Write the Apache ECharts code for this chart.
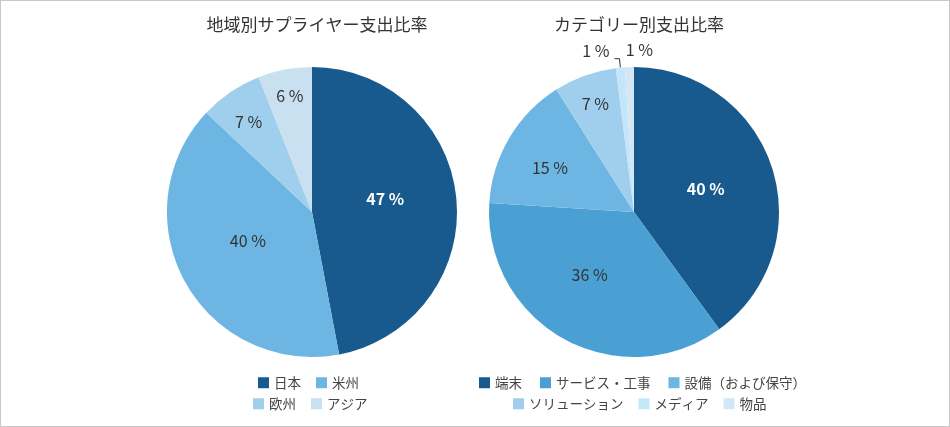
<!DOCTYPE html>
<html>
<head>
<meta charset="utf-8">
<script src="https://cdn.jsdelivr.net/npm/echarts@6/dist/echarts.min.js"></script>
<style>
  html, body { margin: 0; padding: 0; background: #fff; }
  #chart { width: 950px; height: 427px; box-sizing: border-box; border: 1px solid #c8c8c8; }
</style>
</head>
<body>
<div id="chart"></div>
<script>
  // 地域別
  const regionNames = ['日本', '米州', '欧州', 'アジア']
  const regionValues = [47, 40, 7, 6]
  const regionColors = ['#185a8e', '#6db6e3', '#9fcfec', '#c8e0ef']
  const regionLabelShift = [[-2, -6], [2, -7], [-21, -28], [-8, -42]]

  // カテゴリー別
  const categoryNames = ['端末', 'サービス・工事', '設備（および保守）', 'ソリューション', 'メディア', '物品']
  const categoryValues = [40, 36, 15, 7, 1, 1]
  const categoryColors = ['#185a8e', '#4a9fd3', '#6db6e3', '#9fcfec', '#c4e6fb', '#d3e7f5']
  const categoryLabelShift = [[0, 0], [-8, -3], [-19, -6], [-13, -37], [0, -8], [59, -2]]

  const FONT = '"Noto Sans CJK JP", "Noto Sans", sans-serif'

  const chart = echarts.init(document.getElementById('chart'))

  function labelFor(i, shift) {
    // 濃い色の扇形は白文字
    const l = { color: i === 0 ? '#fff' : '#333', offset: shift }
    if (i === 0) l.fontWeight = 'bold'
    return l
  }

  const regionData = regionNames.map((n, i) => ({
    name: n, value: regionValues[i],
    itemStyle: { color: regionColors[i] },
    label: labelFor(i, regionLabelShift[i])
  }))

  const categoryData = categoryNames.map((n, i) => {
    const d = {
      name: n, value: categoryValues[i],
      itemStyle: { color: categoryColors[i] },
      label: labelFor(i, categoryLabelShift[i])
    }
    if (n === 'メディア') {
      d.label = { position: 'outside', color: '#333', distance: 2, offset: categoryLabelShift[i] }
      d.labelLine = { show: true, length: 9, length2: 5, lineStyle: { color: '#333', width: 1 } }
    }
    if (n === '物品') {
      d.label = { position: 'outside', color: '#333', offset: categoryLabelShift[i] }
      d.labelLine = { show: false }
    }
    return d
  })

  const legendBase = {
    icon: 'rect', itemWidth: 11, itemHeight: 11, itemGap: 15, padding: 0,
    textStyle: { fontSize: 13.5, color: '#444', fontFamily: FONT },
    selectedMode: false
  }

  chart.setOption({
    textStyle: { fontFamily: FONT },
    title: [
      { text: '地域別サプライヤー支出比率', left: 311, top: 10, textAlign: 'center',
        textStyle: { fontSize: 17, fontWeight: 'normal', color: '#333', fontFamily: FONT } },
      { text: 'カテゴリー別支出比率', left: 633, top: 10, textAlign: 'center',
        textStyle: { fontSize: 17, fontWeight: 'normal', color: '#333', fontFamily: FONT } }
    ],
    legend: [
      Object.assign({}, legendBase, { data: regionNames.slice(0, 2), top: 375, left: 257 }),
      Object.assign({}, legendBase, { data: regionNames.slice(2), top: 396, left: 252 }),
      Object.assign({}, legendBase, { data: categoryNames.slice(0, 3), top: 375, left: 478, itemGap: 18 }),
      Object.assign({}, legendBase, { data: categoryNames.slice(3), top: 396, left: 512 })
    ],
    series: [
      {
        type: 'pie',
        center: [311, 211],
        radius: 145,
        startAngle: 90,
        clockwise: true,
        silent: true,
        label: { position: 'inside', formatter: '{c} %', fontSize: 16, fontFamily: FONT },
        labelLine: { show: false },
        data: regionData
      },
      {
        type: 'pie',
        center: [633, 211],
        radius: 145,
        startAngle: 90,
        clockwise: true,
        silent: true,
        avoidLabelOverlap: false,
        labelLayout: { hideOverlap: false, moveOverlap: false },
        label: { position: 'inside', formatter: '{c} %', fontSize: 16, fontFamily: FONT },
        labelLine: { show: false },
        data: categoryData
      }
    ]
  })
</script>
</body>
</html>
